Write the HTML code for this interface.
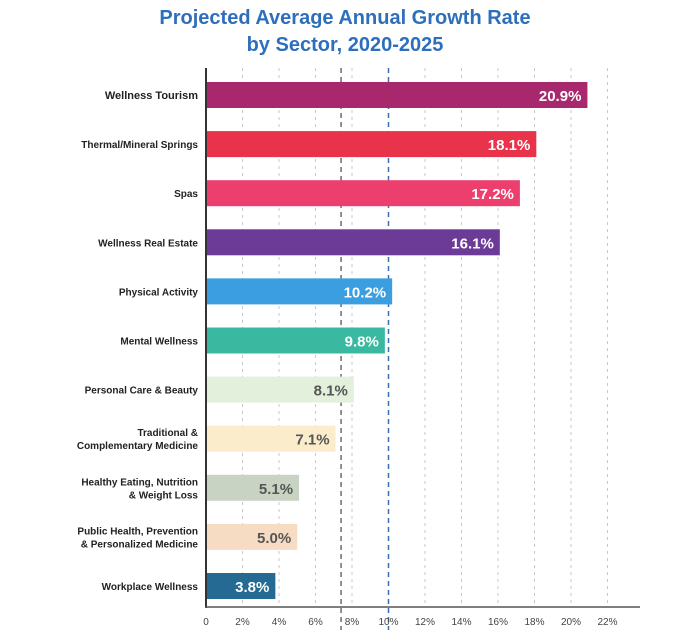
<!DOCTYPE html>
<html><head><meta charset="utf-8"><style>
body{margin:0;background:#fff;width:687px;height:630px;overflow:hidden;font-family:"Liberation Sans",sans-serif}
</style></head><body>
<svg width="687" height="630">
<text x="345" y="24" text-anchor="middle" font-size="20" font-weight="bold" fill="#2d6fbd">Projected Average Annual Growth Rate</text>
<text x="345" y="51" text-anchor="middle" font-size="20" font-weight="bold" fill="#2d6fbd">by Sector, 2020-2025</text>
<g id="grid"></g><g id="bars"></g><g id="axes"></g>
</svg>
<script>
const categories=[["Wellness Tourism"],["Thermal/Mineral Springs"],["Spas"],["Wellness Real Estate"],["Physical Activity"],["Mental Wellness"],["Personal Care & Beauty"],["Traditional &","Complementary Medicine"],["Healthy Eating, Nutrition","& Weight Loss"],["Public Health, Prevention","& Personalized Medicine"],["Workplace Wellness"]];
const values=[20.9,18.1,17.2,16.1,10.2,9.8,8.1,7.1,5.1,5.0,3.8];
const valueLabels=["20.9%","18.1%","17.2%","16.1%","10.2%","9.8%","8.1%","7.1%","5.1%","5.0%","3.8%"];
const colors=["#a8286e","#e8334a","#ec3f6e","#6c3a97","#3a9ee0","#3bb8a0","#e3f0dc","#fbedcc","#c9d3c3","#f7dcc4","#246a92"];
const textColors=["#fff","#fff","#fff","#fff","#fff","#fff","#555","#555","#555","#555","#fff"];
const ticks=[0,2,4,6,8,10,12,14,16,18,20,22];
const tickLabels=["0","2%","4%","6%","8%","10%","12%","14%","16%","18%","20%","22%"];
const averageLine=7.4;
const NS="http://www.w3.org/2000/svg";
const x=v=>206+v*18.25;
const y=i=>82+i*49.1;
function mk(t,a,p){const e=document.createElementNS(NS,t);for(const k in a)e.setAttribute(k,a[k]);p.appendChild(e);return e;}
const G=document.getElementById('grid'),B=document.getElementById('bars'),A=document.getElementById('axes');
ticks.forEach((t,i)=>{
 if(t>0&&t!==10){const l=mk('line',{x1:x(t),x2:x(t),y1:68,y2:607,stroke:'#c8c8c8','stroke-dasharray':'3,4','stroke-width':1},G);
 
 }
 const tx=mk('text',{x:x(t),y:625,'text-anchor':'middle','font-size':10,fill:'#444'},A);tx.textContent=tickLabels[i];
 
 
});
let l=mk('line',{x1:x(10),x2:x(10),y1:68,y2:630,stroke:'#3a6fb5','stroke-dasharray':'5,4','stroke-width':1.5},G);


l=mk('line',{x1:x(averageLine),x2:x(averageLine),y1:68,y2:630,stroke:'#555','stroke-dasharray':'5,4','stroke-width':1.3},G);


values.forEach((v,i)=>{
 const r=mk('rect',{x:x(0),y:y(i),width:x(v)-x(0),height:26,fill:colors[i]},B);
 
 
 const t=mk('text',{x:x(v)-6,y:y(i)+19,'text-anchor':'end','font-size':15,'font-weight':'bold',fill:textColors[i]},B);t.textContent=valueLabels[i];
 
 
 const c=categories[i];
 c.forEach((s,j)=>{const ct=mk('text',{x:198,y:y(i)+13+(j-(c.length-1)/2)*13+4,'text-anchor':'end','font-size':i==0?11:10,'font-weight':'bold',fill:'#222'},A);ct.textContent=s;
 
 });
});
l=mk('line',{x1:206,x2:206,y1:68,y2:608,stroke:'#333','stroke-width':2},A);


l=mk('line',{x1:205,x2:640,y1:607,y2:607,stroke:'#555','stroke-width':1.5},A);


</script>
</body></html>
